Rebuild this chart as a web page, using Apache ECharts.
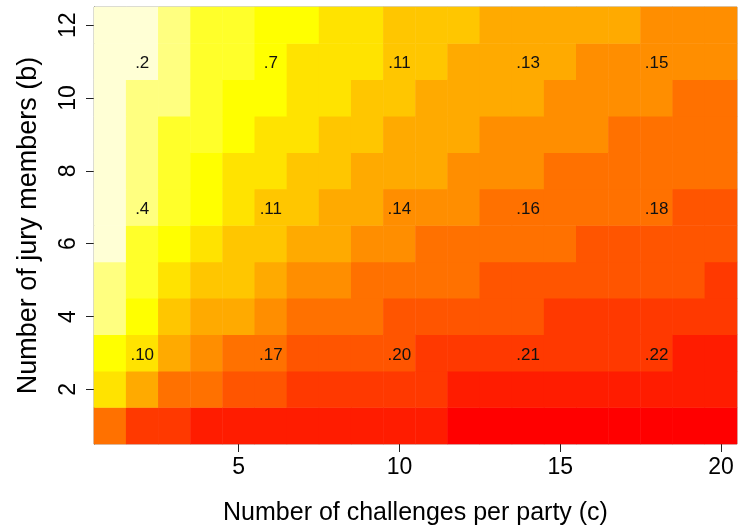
<!DOCTYPE html>
<html>
<head>
<meta charset="utf-8">
<script src="https://cdn.jsdelivr.net/npm/echarts@6/dist/echarts.min.js"></script>
<style>
  html, body { margin: 0; padding: 0; background: #fff; }
  #jury_heat { width: 738px; height: 531px; }
</style>
</head>
<body>
<div id="jury_heat"></div>
<script>
/* colour level of every cell, one row per jury size b (1..12), columns c = 1..20 */
var challenges = ['1','2','3','4','5','6','7','8','9','10','11','12','13','14','15','16','17','18','19','20'];
var jurySizes = ['1','2','3','4','5','6','7','8','9','10','11','12'];

var levelB1  = [4,2,2,1,1,1,1,1,1,1,1,0,0,0,0,0,0,0,0,0];
var levelB2  = [8,6,4,4,3,3,2,2,2,2,2,1,1,1,1,1,1,1,1,1];
var levelB3  = [9,8,6,5,4,4,3,3,3,3,2,2,2,2,2,2,2,2,1,1];
var levelB4  = [11,9,7,6,6,5,4,4,4,3,3,3,3,3,2,2,2,2,2,2];
var levelB5  = [11,10,8,7,7,6,5,5,4,4,4,4,3,3,3,3,3,3,3,2];
var levelB6  = [12,10,9,8,7,7,6,6,5,5,4,4,4,4,4,3,3,3,3,3];
var levelB7  = [12,11,10,9,8,7,7,6,6,5,5,5,4,4,4,4,4,4,3,3];
var levelB8  = [12,11,10,9,8,8,7,7,6,6,6,5,5,5,4,4,4,4,4,4];
var levelB9  = [12,11,10,10,9,8,8,7,7,6,6,6,5,5,5,5,4,4,4,4];
var levelB10 = [12,11,11,10,9,9,8,8,7,7,6,6,6,6,5,5,5,5,4,4];
var levelB11 = [12,12,11,10,10,9,8,8,8,7,7,6,6,6,6,5,5,5,5,5];
var levelB12 = [12,12,11,10,10,9,9,8,8,7,7,7,6,6,6,6,6,5,5,5];

/* printed values */
var noteCols = [2, 6, 10, 14, 18];
var noteB11 = ['.2', '.7', '.11', '.13', '.15'];
var noteB7  = ['.4', '.11', '.14', '.16', '.18'];
var noteB3  = ['.10', '.17', '.20', '.21', '.22'];

var heatColors = ['#FF0000','#FF1C00','#FF3900','#FF5500','#FF7100','#FF8E00','#FFAA00',
                  '#FFC600','#FFE300','#FFFF00','#FFFF2A','#FFFF80','#FFFFD5'];

(function(){
	var myChart = echarts.init(document.getElementById('jury_heat'));
	var rows = [levelB1, levelB2, levelB3, levelB4, levelB5, levelB6,
	            levelB7, levelB8, levelB9, levelB10, levelB11, levelB12];
	var notes = {3: noteB3, 7: noteB7, 11: noteB11};

	var data = [];
	rows.forEach(function(row, yi){
		row.forEach(function(v, xi){
			data.push([xi, yi, v]);
		});
	});

	var font = '"Liberation Sans", Arial, sans-serif';

	var option = {
		animation: false,
		grid: {
			left: 94, right: 1, top: 7, bottom: 86,
			show: true, borderColor: '#a0a0a0', borderWidth: 1
		},
		xAxis: {
			type: 'category',
			data: challenges,
			name: 'Number of challenges per party (c)',
			nameLocation: 'middle',
			nameGap: 57,
			nameTextStyle: { fontFamily: font, fontSize: 25, color: '#000' },
			axisLine: { show: false },
			axisTick: {
				show: true, alignWithLabel: true, length: 8,
				interval: function(i, v){ return v % 5 === 0; },
				lineStyle: { color: '#222' }
			},
			axisLabel: {
				interval: function(i, v){ return v % 5 === 0; },
				fontFamily: font, fontSize: 23, color: '#000', margin: 12
			},
			splitLine: { show: false }
		},
		yAxis: {
			type: 'category',
			data: jurySizes,
			name: 'Number of jury members (b)',
			nameLocation: 'middle',
			nameGap: 52,
			nameTextStyle: { fontFamily: font, fontSize: 27, color: '#000' },
			axisLine: { show: true, lineStyle: { color: '#444' } },
			axisTick: {
				show: true, alignWithLabel: true, length: 8,
				interval: function(i, v){ return v % 2 === 0; },
				lineStyle: { color: '#222' }
			},
			axisLabel: {
				interval: function(i, v){ return v % 2 === 0; },
				rotate: 90,
				fontFamily: font, fontSize: 23, color: '#000', margin: 14
			},
			splitLine: { show: false }
		},
		visualMap: {
			type: 'piecewise',
			show: false,
			dimension: 2,
			pieces: heatColors.map(function(c, i){ return { value: i, color: c }; })
		},
		series: [{
			type: 'heatmap',
			data: data,
			itemStyle: { borderWidth: 0 },
			emphasis: { disabled: true },
			label: {
				show: true,
				fontFamily: font,
				fontSize: 17,
				color: '#111',
				offset: [0, 2],
				formatter: function(p){
					var col = p.value[0] + 1, b = p.value[1] + 1;
					var k = noteCols.indexOf(col);
					if (notes[b] && k >= 0) return notes[b][k];
					return '';
				}
			}
		}]
	};
	myChart.setOption(option);
})();
</script>
</body>
</html>
